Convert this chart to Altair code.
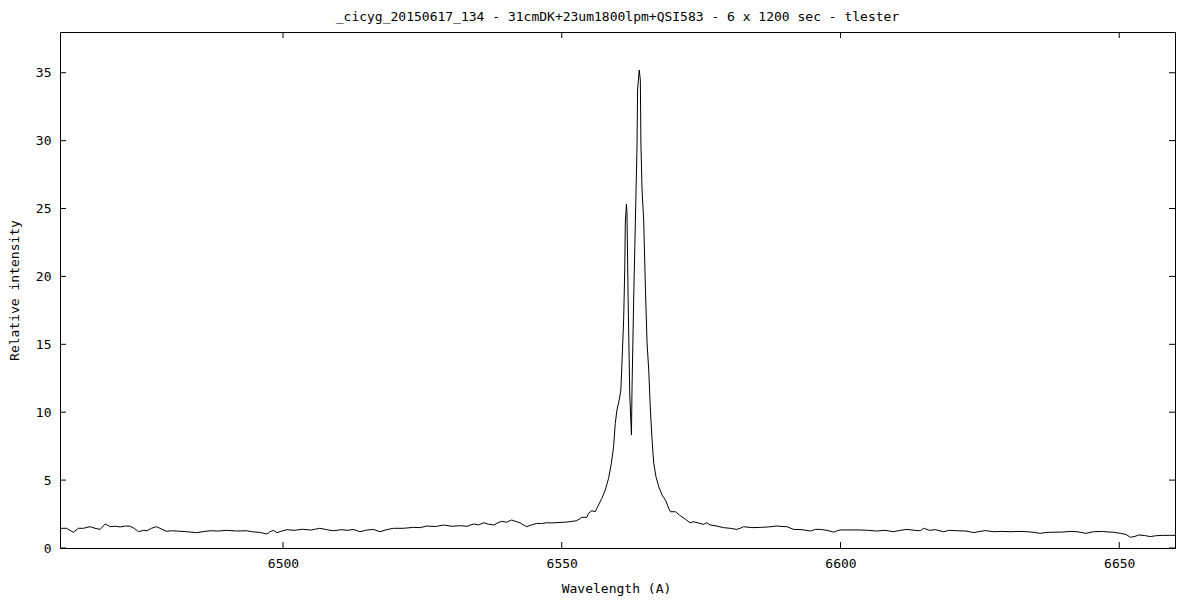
import altair as alt
import pandas as pd

# ---- data ----
wavelength = [
    6460.0, 6461.2, 6461.8, 6462.4, 6463.3, 6464.2, 6465.4, 6466.3, 6467.2, 6468.1,
    6469.0, 6470.0, 6470.8, 6471.7, 6472.6, 6473.3, 6474.1, 6475.0, 6475.6, 6476.4,
    6477.3, 6478.2, 6479.1, 6480.0, 6480.9, 6482.7, 6484.5, 6485.6, 6486.9, 6488.4,
    6489.9, 6491.7, 6493.5, 6494.4, 6495.8, 6497.1, 6497.7, 6498.3, 6498.9, 6499.8,
    6500.7, 6502.0, 6503.5, 6505.0, 6506.6, 6507.8, 6509.0, 6510.5, 6511.6, 6512.6,
    6513.8, 6515.0, 6516.2, 6517.4, 6518.6, 6519.8, 6521.6, 6523.4, 6524.6, 6525.8,
    6527.3, 6528.8, 6530.3, 6531.8, 6533.0, 6534.2, 6535.1, 6536.0, 6536.9, 6537.8,
    6538.5, 6539.2, 6540.1, 6541.0, 6541.8, 6542.5, 6543.1, 6543.7, 6544.6, 6545.5,
    6546.4, 6547.3, 6548.0, 6548.8,
    # H-alpha region
    6550.9, 6552.7, 6553.6, 6554.5, 6554.8, 6555.4, 6556.0, 6556.6, 6557.2, 6557.8,
    6558.4, 6558.9, 6559.3, 6559.6, 6559.9, 6560.3, 6560.6, 6560.8, 6561.1, 6561.3,
    6561.4, 6561.6, 6561.7, 6561.9, 6562.1, 6562.2, 6562.5, 6562.6, 6562.9, 6563.2,
    6563.5, 6563.6, 6563.9, 6564.1, 6564.2, 6564.4, 6564.7, 6565.0, 6565.3, 6565.6,
    6565.9, 6566.2, 6566.5, 6566.9, 6567.4, 6568.0, 6568.6, 6569.2, 6569.5, 6570.4,
    6571.1,
    # red continuum
    6572.2, 6573.0, 6573.6, 6574.5, 6575.4, 6576.0, 6576.6, 6577.8, 6579.0, 6580.2,
    6581.4, 6582.0, 6582.6, 6584.1, 6585.6, 6587.1, 6588.6, 6589.5, 6590.4, 6591.6,
    6593.1, 6594.6, 6595.5, 6596.4, 6597.6, 6598.8, 6599.4, 6600.0, 6601.7, 6603.5,
    6605.0, 6606.5, 6608.0, 6609.5, 6610.7, 6611.9, 6613.4, 6614.3, 6614.9, 6616.0,
    6617.0, 6618.5, 6619.5, 6621.0, 6622.5, 6623.9, 6625.0, 6626.0, 6627.5, 6629.0,
    6630.5, 6632.0, 6633.5, 6634.7, 6635.8, 6637.0, 6638.2, 6640.0, 6641.2, 6642.4,
    6643.5, 6644.0, 6645.4, 6647.0, 6648.0, 6649.0, 6650.2, 6651.2, 6652.0, 6652.8,
    6653.5, 6654.5, 6655.6, 6656.5, 6657.8, 6659.0, 6660.0,
]

intensity = [
    1.45, 1.45, 1.30, 1.16, 1.45, 1.45, 1.57, 1.45, 1.37, 1.77,
    1.57, 1.60, 1.55, 1.62, 1.60, 1.45, 1.20, 1.30, 1.27, 1.45,
    1.57, 1.40, 1.23, 1.27, 1.25, 1.20, 1.13, 1.20, 1.27, 1.25,
    1.30, 1.25, 1.27, 1.20, 1.15, 1.03, 1.20, 1.30, 1.13, 1.25,
    1.35, 1.30, 1.38, 1.32, 1.45, 1.35, 1.27, 1.35, 1.30, 1.37,
    1.20, 1.32, 1.37, 1.20, 1.35, 1.45, 1.45, 1.52, 1.50, 1.62,
    1.58, 1.69, 1.60, 1.64, 1.60, 1.77, 1.70, 1.86, 1.75, 1.69,
    1.85, 1.96, 1.90, 2.06, 1.95, 1.86, 1.70, 1.57, 1.70, 1.81,
    1.80, 1.86, 1.85, 1.86,
    1.91, 2.01, 2.26, 2.26, 2.56, 2.75, 2.67, 3.17, 3.66, 4.27,
    5.13, 6.24, 7.46, 9.18, 10.16, 10.90, 11.63, 13.62, 16.79, 20.47,
    23.93, 25.33, 24.74, 18.48, 13.70, 11.27, 8.32, 11.63, 18.26, 23.93,
    29.53, 33.73, 35.20, 34.46, 29.82, 26.36, 24.15, 19.22, 15.10, 13.11,
    10.16, 7.95, 6.24, 5.25, 4.51, 3.90, 3.53, 2.92, 2.67, 2.67,
    2.43,
    2.11, 1.86, 1.93, 1.85, 1.74, 1.86, 1.70, 1.62, 1.50, 1.45,
    1.37, 1.45, 1.57, 1.50, 1.52, 1.55, 1.62, 1.58, 1.57, 1.37,
    1.35, 1.25, 1.37, 1.37, 1.30, 1.17, 1.27, 1.33, 1.33, 1.33,
    1.30, 1.25, 1.30, 1.20, 1.30, 1.37, 1.30, 1.27, 1.45, 1.30,
    1.35, 1.20, 1.30, 1.27, 1.25, 1.13, 1.22, 1.28, 1.20, 1.22,
    1.20, 1.22, 1.20, 1.15, 1.08, 1.15, 1.16, 1.18, 1.22, 1.20,
    1.12, 1.08, 1.20, 1.22, 1.18, 1.16, 1.08, 1.00, 0.79, 0.85,
    0.96, 0.92, 0.84, 0.90, 0.93, 0.93, 0.93,
]

x_tick_values = [6500, 6550, 6600, 6650]
y_tick_values = [0, 5, 10, 15, 20, 25, 30, 35]
x_domain = [6460, 6660]
y_domain = [0, 38]

title_text = "_cicyg_20150617_134 - 31cmDK+23um1800lpm+QSI583 - 6 x 1200 sec - tlester"
x_title = "Wavelength (A)"
y_title = "Relative intensity"

FONT = "DejaVu Sans Mono"
W, H = 1115, 516
TICK = 6

spec_df = pd.DataFrame({"wavelength": wavelength, "intensity": intensity})
xt_df = pd.DataFrame({"wavelength": x_tick_values})
yt_df = pd.DataFrame({"intensity": y_tick_values})

xscale = alt.Scale(domain=x_domain, nice=False, zero=False)
yscale = alt.Scale(domain=y_domain, nice=False, zero=False)

x_axis = alt.Axis(values=x_tick_values, title=x_title, grid=False, ticks=False,
                  domain=False, labelPadding=9, labelFontSize=13, labelFont=FONT,
                  labelColor="black", titleFont=FONT, titleFontSize=13,
                  titleFontWeight="normal", titleColor="black",
                  titleX=556, titleY=40, titleBaseline="middle", format="d")
y_axis = alt.Axis(values=y_tick_values, title=y_title, grid=False, ticks=False,
                  domain=False, labelPadding=9, labelFontSize=13, labelFont=FONT,
                  labelColor="black", titleFont=FONT, titleFontSize=13,
                  titleFontWeight="normal", titleColor="black",
                  titleX=-46, titleY=258, titleAngle=270, titleAlign="center",
                  titleBaseline="middle", format="d")

X = alt.X("wavelength:Q", scale=xscale, axis=x_axis)
Y = alt.Y("intensity:Q", scale=yscale, axis=y_axis)

line = alt.Chart(spec_df).mark_line(color="black", strokeWidth=1, interpolate="linear").encode(
    x=X, y=Y)

tick_style = dict(color="black", strokeWidth=1)

left_ticks = alt.Chart(yt_df).mark_rule(**tick_style).encode(
    y=Y, x=alt.value(0), x2=alt.value(TICK))
right_ticks = alt.Chart(yt_df).mark_rule(**tick_style).encode(
    y=Y, x=alt.value(W - TICK), x2=alt.value(W))
bottom_ticks = alt.Chart(xt_df).mark_rule(**tick_style).encode(
    x=X, y=alt.value(H - TICK), y2=alt.value(H))
top_ticks = alt.Chart(xt_df).mark_rule(**tick_style).encode(
    x=X, y=alt.value(0), y2=alt.value(TICK))

chart = alt.layer(line, left_ticks, right_ticks, bottom_ticks, top_ticks).properties(
    width=W, height=H,
    title=alt.Title(title_text, font=FONT, fontSize=13, fontWeight="normal", color="black",
                    anchor="middle", frame="group", baseline="alphabetic", offset=-2),
    autosize=alt.AutoSizeParams(type="none"),
    padding={"left": 52, "top": 24, "right": 17, "bottom": 50},
    background="white",
).configure_view(stroke="black", strokeWidth=1)

chart.save("out.html", embed_options={"renderer": "svg", "actions": False})
